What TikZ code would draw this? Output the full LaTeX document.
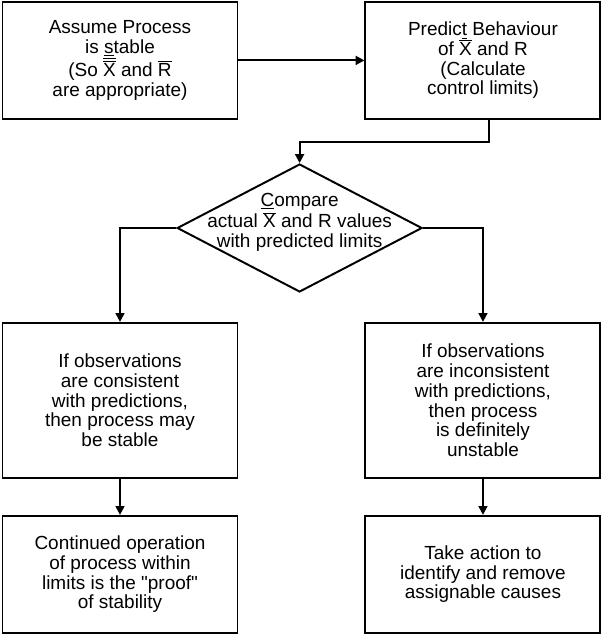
\documentclass[tikz,border=0pt]{standalone}
\usepackage{fontspec}
\setmainfont{Liberation Sans}
\newfontfamily\fuenteRecta{Liberation Sans}
\usetikzlibrary{arrows.meta, positioning, shapes.geometric}
\newcommand{\barra}[1]{$\overline{\mbox{#1}}$}
\newcommand{\barraDoble}[1]{$\overline{\overline{\mbox{#1}}}$}
\newcommand{\comilla}{{\fuenteRecta\symbol{34}}}
\tikzset{
  cajaBase/.style={
    draw=black, line width=1.4pt,
    minimum height=2.925cm, minimum width=5.875cm,
    align=center, font=\fontsize{13.5}{14}\selectfont, text=black,
    fill=white
  },
  cajaAlta/.style={cajaBase, minimum height=3.875cm},
  cajaDecision/.style={draw=black, line width=1.4pt, diamond,
    minimum width=6.125cm, minimum height=3.2cm, inner sep=0pt},
  textoDecision/.style={align=center, font=\fontsize{13.5}{14}\selectfont,
    inner sep=0pt, yshift=0.14cm},
  flecha/.style={-{Triangle[length=2.2mm, width=2.2mm]}, line width=1.4pt, black},
}
\begin{document}
\begin{tikzpicture}[node distance=0.9cm]
    \useasboundingbox (0,0) rectangle (15,-15.875);
    % fila superior
    \node[cajaBase] (assume) at (3.0,-1.51) {Assume Process\\is \underline{s}table\\(So \barraDoble{X} and \barra{R}\\are appropriate)};
    \node[cajaBase, right=3.15cm of assume] (predict) {Predic\underline{t} Behaviour\\of \barra{X} and R\\(Calculate\\control limits)};

    % decision
    \node[cajaDecision] (compare) at (7.49,-5.7)
      [label={[textoDecision]center:\underline{C}ompare\\actual \barra{X} and R values\\with predicted limits}] {};

    % dos ramas
    \node[cajaAlta] (consistent) at (3.0,-10.01) {If observations\\are consistent\\with predictions,\\then process may\\be stable};
    \node[cajaAlta, right=3.15cm of consistent] (inconsistent) {If observations\\are inconsistent\\with predictions,\\then process\\is definitely\\unstable};
    \node[cajaBase, below=of consistent] (proof) {Continued operation\\of process within\\limits is the \comilla proof\comilla\\of stability};
    \node[cajaBase, below=of inconsistent] (action) {Take action to\\identify and remove\\assignable causes};

    \draw[flecha] (assume) -- (predict);
    \draw[flecha] ([xshift=0.16cm]predict.south) -- ++(0,-0.55) -| (compare.north);
    \draw[flecha] (compare.west) -| (consistent.north);
    \draw[flecha] (compare.east) -| (inconsistent.north);
    \draw[flecha] (consistent) -- (proof);
    \draw[flecha] (inconsistent) -- (action);
  \end{tikzpicture}
\end{document}
